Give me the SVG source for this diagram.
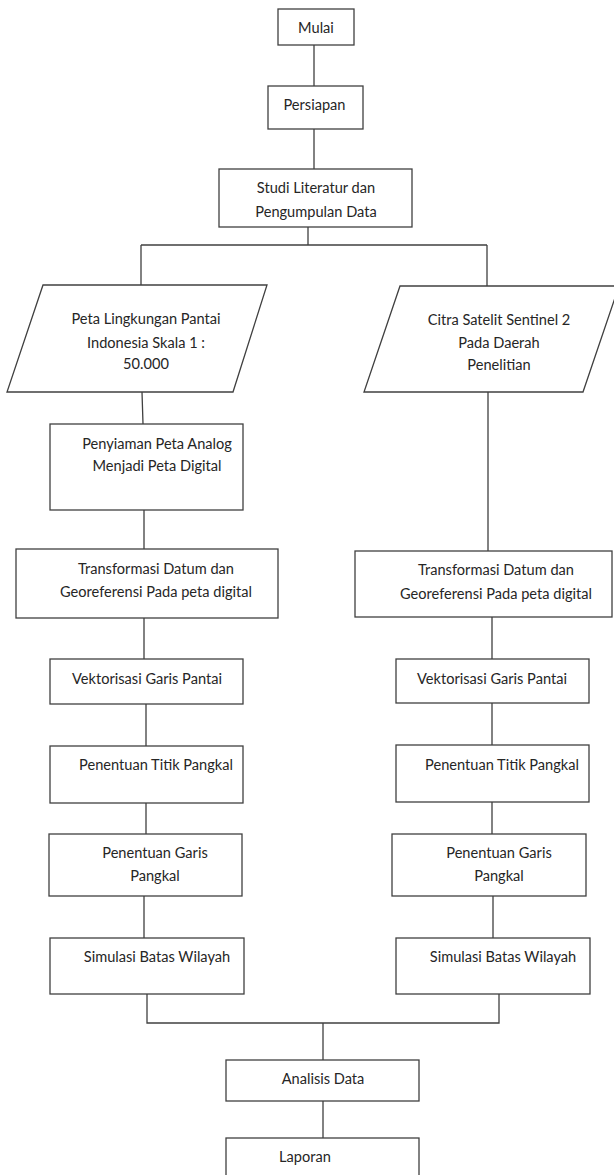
<svg xmlns="http://www.w3.org/2000/svg" width="614" height="1175" viewBox="0 0 614 1175">
<style>
.box{fill:#fff;stroke:#404040;stroke-width:1.3}
.c{fill:none;stroke:#404040;stroke-width:1.3}
text{font-family:Lato,"Open Sans","Liberation Sans",sans-serif;font-size:14.6px;fill:#262626;text-anchor:middle;dominant-baseline:central}
</style>
<rect width="614" height="1175" fill="#fff"/>
<g id="connectors">
<path class="c" d="M314 45V86M314 129V169M308 227V245M141 245H487M141 245V285M487 245V286"/>
<path class="c" d="M142 392L143 424M144 510V549M144 618V659M146 704V746M146 803V834M144 896V938M147 994V1023H499V994"/>
<path class="c" d="M488 392V551M492 617V659M492 703V745M492 802V834M493 896V938"/>
<path class="c" d="M323 1023V1060M323 1101V1138"/>
</g>
<g id="mulai"><rect class="box" x="278" y="9" width="76" height="36"/><text x="316" y="27">Mulai</text></g>
<g id="persiapan"><rect class="box" x="268" y="86" width="95" height="43"/><text x="314.5" y="104">Persiapan</text></g>
<g id="studi"><rect class="box" x="219" y="169" width="193" height="58"/><text x="316" y="187">Studi Literatur dan</text><text x="316" y="211">Pengumpulan Data</text></g>
<g id="peta"><polygon class="box" points="43,285 267,285 233,392 7,392"/><text x="146" y="318">Peta Lingkungan Pantai</text><text x="146" y="342">Indonesia Skala 1 :</text><text x="146" y="363">50.000</text></g>
<g id="citra"><polygon class="box" points="400,286 619,286 583,392 364,392"/><text x="499" y="319">Citra Satelit Sentinel 2</text><text x="499" y="342">Pada Daerah</text><text x="499" y="364">Penelitian</text></g>
<g id="penyiaman"><rect class="box" x="50" y="424" width="193" height="86"/><text x="157" y="443">Penyiaman Peta Analog</text><text x="157" y="465">Menjadi Peta Digital</text></g>
<g id="transL"><rect class="box" x="16" y="549" width="262" height="69"/><text x="156" y="568">Transformasi Datum dan</text><text x="156" y="591">Georeferensi Pada peta digital</text></g>
<g id="vektorL"><rect class="box" x="50" y="659" width="193" height="45"/><text x="147" y="678">Vektorisasi Garis Pantai</text></g>
<g id="titikL"><rect class="box" x="50" y="746" width="193" height="57"/><text x="156" y="764">Penentuan Titik Pangkal</text></g>
<g id="garisL"><rect class="box" x="49" y="834" width="193" height="62"/><text x="155" y="852">Penentuan Garis</text><text x="155" y="875">Pangkal</text></g>
<g id="simL"><rect class="box" x="50" y="938" width="194" height="56"/><text x="157" y="956">Simulasi Batas Wilayah</text></g>
<g id="transR"><rect class="box" x="355" y="551" width="257" height="66"/><text x="496" y="569">Transformasi Datum dan</text><text x="496" y="593">Georeferensi Pada peta digital</text></g>
<g id="vektorR"><rect class="box" x="396" y="659" width="193" height="44"/><text x="492" y="678">Vektorisasi Garis Pantai</text></g>
<g id="titikR"><rect class="box" x="396" y="745" width="193" height="57"/><text x="502" y="764">Penentuan Titik Pangkal</text></g>
<g id="garisR"><rect class="box" x="392" y="834" width="194" height="62"/><text x="499" y="852">Penentuan Garis</text><text x="499" y="875">Pangkal</text></g>
<g id="simR"><rect class="box" x="396" y="938" width="194" height="56"/><text x="503" y="956">Simulasi Batas Wilayah</text></g>
<g id="analisis"><rect class="box" x="226" y="1060" width="193" height="41"/><text x="323" y="1078">Analisis Data</text></g>
<g id="laporan"><rect class="box" x="226" y="1138" width="193" height="45"/><text x="305" y="1156">Laporan</text></g>
</svg>
